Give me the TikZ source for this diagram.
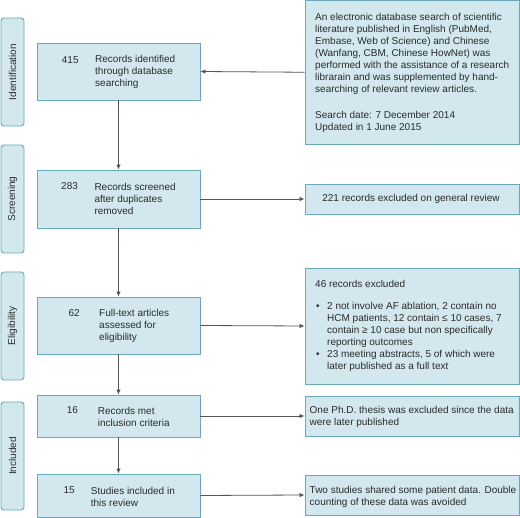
\documentclass[tikz,border=0pt]{standalone}
\usepackage{fontspec}
\setmainfont{Liberation Sans}
\usetikzlibrary{arrows.meta}
\definecolor{boxfill}{HTML}{D2E8EE}
\definecolor{boxline}{HTML}{6AAAB8}
\definecolor{txt}{HTML}{2A2A2A}
\definecolor{conn}{HTML}{555555}
\begin{document}
\begin{tikzpicture}[x=1pt,y=-1pt, font=\fontsize{10}{12}\selectfont, text=txt,
  box/.style={draw=boxline, fill=boxfill, line width=0.9pt, inner sep=0pt},
  stage/.style={draw=boxline, fill=boxfill, line width=0.9pt, rounded corners=3pt,
    rotate=90, minimum width=108pt, minimum height=23pt, inner sep=0pt},
  lbl/.style={inner sep=0pt, align=left, anchor=west},
  arr/.style={draw=conn, line width=0.8pt, -{Latex[length=5pt,width=4.5pt]}}]
\useasboundingbox (0,0) rectangle (520,518);

% stage labels
\node[stage] (s1) at (12.5,72) {Identification};
\node[stage] (s2) at (12.5,199) {Screening};
\node[stage] (s3) at (12.5,326) {Eligibility};
\node[stage] (s4) at (12.5,456) {Included};

% left boxes
\node[box, minimum width=163pt, minimum height=57pt] (b1) at (118.5,71.5) {};
\node[box, minimum width=163pt, minimum height=58pt] (b2) at (118.5,199) {};
\node[box, minimum width=163pt, minimum height=57pt] (b3) at (118.5,325.5) {};
\node[box, minimum width=163pt, minimum height=42pt] (b4) at (118.5,416) {};
\node[box, minimum width=163pt, minimum height=43pt] (b5) at (118.5,495.5) {};

\node[lbl] (n1) at (61.7,60) {415};
\node[lbl] (t1) at (95,72) {Records identified\\through database\\searching};
\node[lbl] (n2) at (61,186.5) {283};
\node[lbl] (t2) at (94.3,199) {Records screened\\after duplicates\\removed};
\node[lbl] (n3) at (68.3,313.5) {62};
\node[lbl] (t3) at (99,326) {Full-text articles\\assessed for\\eligibility};
\node[lbl] (n4) at (66.7,410.5) {16};
\node[lbl] (t4) at (97.7,416.5) {Records met\\inclusion criteria};
\node[lbl] (n5) at (63.3,490.5) {15};
\node[lbl] (t5) at (90.7,496.5) {Studies included in\\this review};

% right boxes
\node[box, minimum width=214pt, minimum height=143.5pt] (r1) at (412,72.25) {};
\node[box, minimum width=214pt, minimum height=30pt] (r2) at (412,199) {};
\node[box, minimum width=214pt, minimum height=116pt] (r3) at (412,326) {};
\node[box, minimum width=214pt, minimum height=40pt] (r4) at (412,416) {};
\node[box, minimum width=214pt, minimum height=40pt] (r5) at (412,495) {};

\node[inner sep=0pt, align=left, anchor=north west] (r1t) at (315,13) {An electronic database search of scientific\\literature published in English (PubMed,\\Embase, Web of Science) and Chinese\\(Wanfang, CBM, Chinese HowNet) was\\performed with the assistance of a research\\librarain and was supplemented by hand-\\searching of relevant review articles.\\[14.4pt]Search date: 7 December 2014\\Updated in 1 June 2015};
\node[inner sep=0pt] (r2t) at (411,199) {221 records excluded on general review};
\node[lbl] (r3h) at (315,284) {46 records excluded};
\node[lbl] (r3b1) at (316,307.3) {\textbullet};
\node[lbl] (r3t1) at (327,325.3) {2 not involve AF ablation, 2 contain no\\HCM patients, 12 contain ≤ 10 cases, 7\\contain ≥ 10 case but non specifically\\reporting outcomes};
\node[lbl] (r3b2) at (316,355) {\textbullet};
\node[lbl] (r3t2) at (327,361) {23 meeting abstracts, 5 of which were\\later published as a full text};
\node[lbl] (r4t) at (309.5,416.7) {One Ph.D. thesis was excluded since the data\\were later published};
\node[lbl] (r5t) at (309.5,496.7) {Two studies shared some patient data. Double\\counting of these data was avoided};

% connectors
\draw[arr] (r1.west) -- (b1.east);
\draw[arr] (b1.south) -- (b2.north);
\draw[arr] (b2.south) -- (b3.north);
\draw[arr] (b3.south) -- (b4.north);
\draw[arr] (b4.south) -- (b5.north);
\draw[arr] (b2.east) -- (r2.west);
\draw[arr] (b3.east) -- (r3.west);
\draw[arr] (b4.east) -- (r4.west);
\draw[arr] (b5.east) -- (r5.west);
\end{tikzpicture}
\end{document}
